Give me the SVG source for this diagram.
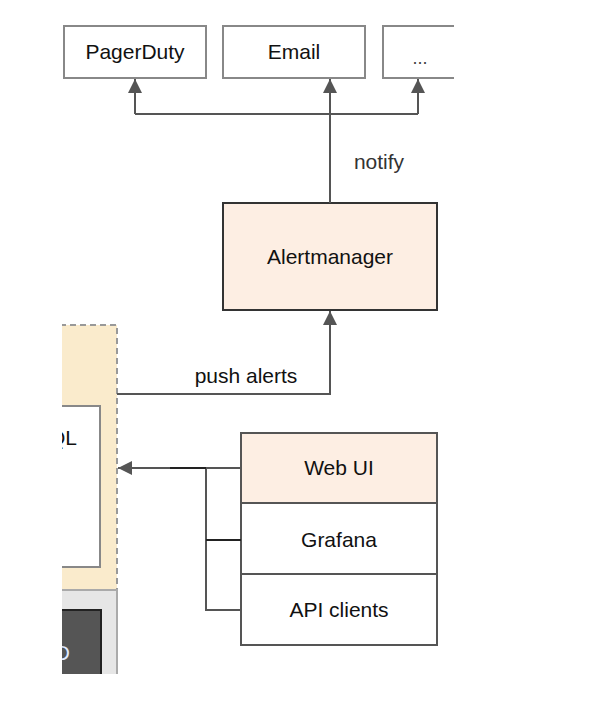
<svg xmlns="http://www.w3.org/2000/svg" width="592" height="716" viewBox="0 0 592 716">
  <defs>
    <style>
      .lbl { font-family: "Liberation Sans", Arial, sans-serif; font-size: 21px; fill: #111; text-anchor: middle; }
      .edge-lbl { font-family: "Liberation Sans", Arial, sans-serif; font-size: 21px; fill: #333; text-anchor: middle; }
      .box { fill: #ffffff; stroke: #888; stroke-width: 2; }
      .dark { stroke: #333; stroke-width: 2; }
      .peach { fill: #fdeee3; }
      .conn { fill: none; stroke: #555; stroke-width: 2; }
    </style>
    <marker id="arrBig" viewBox="0 0 14 14" refX="14" refY="7" markerWidth="14" markerHeight="14" markerUnits="userSpaceOnUse" orient="auto">
      <path d="M0,0 L14,7 L0,14 z" fill="#555"/>
    </marker>
    <clipPath id="crop">
      <rect x="62" y="0" width="392" height="674"/>
    </clipPath>
  </defs>
  <rect width="592" height="716" fill="#ffffff"/>
  <g clip-path="url(#crop)">
    <g id="prometheus-server">
      <rect x="0" y="325" width="117" height="265" fill="#faebcc" stroke="#999" stroke-width="2" stroke-dasharray="6,4"/>
      <rect id="promql" x="0" y="406" width="100" height="161" class="box"/>
      <text class="lbl" x="77" y="445" style="text-anchor:end">PromQL</text>
    </g>
    <g id="storage">
      <rect x="0" y="590" width="117" height="120" fill="#e6e6e6" stroke="#aaa" stroke-width="2"/>
      <rect x="0" y="610" width="101" height="100" fill="#555555" stroke="#222" stroke-width="2"/>
      <text x="70" y="660" style="font-family:'Liberation Sans',Arial,sans-serif;font-size:21px;fill:#dfe8ff;text-anchor:end">HDD</text>
    </g>
    <g id="pagerduty">
      <rect x="64" y="26" width="142" height="52" class="box"/>
      <text class="lbl" x="135" y="59">PagerDuty</text>
    </g>
    <g id="email">
      <rect x="223" y="26" width="142" height="52" class="box"/>
      <text class="lbl" x="294" y="59">Email</text>
    </g>
    <g id="more">
      <rect x="383" y="26" width="142" height="52" class="box"/>
      <text class="lbl" x="420" y="64" style="font-size:18px;fill:#444">...</text>
    </g>
    <g id="alertmanager">
      <rect x="223" y="203" width="214" height="107" class="peach dark"/>
      <text class="lbl" x="330" y="264">Alertmanager</text>
    </g>
    <g id="clients">
      <g id="webui">
        <rect x="241" y="433" width="196" height="70" class="peach" stroke="#555" stroke-width="2"/>
        <text class="lbl" x="339" y="475">Web UI</text>
      </g>
      <g id="grafana">
        <rect x="241" y="503" width="196" height="71" fill="#fff" stroke="#555" stroke-width="2"/>
        <text class="lbl" x="339" y="547">Grafana</text>
      </g>
      <g id="apiclients">
        <rect x="241" y="574" width="196" height="71" fill="#fff" stroke="#555" stroke-width="2"/>
        <text class="lbl" x="339" y="617">API clients</text>
      </g>
    </g>
    <g id="connectors">
      <path class="conn" d="M330,203 V114 M135,114 H418"/>
      <path class="conn" d="M330,114 V79" marker-end="url(#arrBig)"/>
      <path class="conn" d="M135,114 V79" marker-end="url(#arrBig)"/>
      <path class="conn" d="M418,114 V79" marker-end="url(#arrBig)"/>
      <text class="edge-lbl" x="379" y="169">notify</text>
      <path class="conn" d="M117,394 H330 V311" marker-end="url(#arrBig)"/>
      <text class="edge-lbl" x="246" y="383" style="fill:#111">push alerts</text>
      <path class="conn" d="M241,468 H118" marker-end="url(#arrBig)"/>
      <path class="conn" d="M206,468 V610 H241"/>
      <path d="M170,468 H206 M206,540 H241" fill="none" stroke="#222" stroke-width="2"/>
    </g>
  </g>
</svg>
